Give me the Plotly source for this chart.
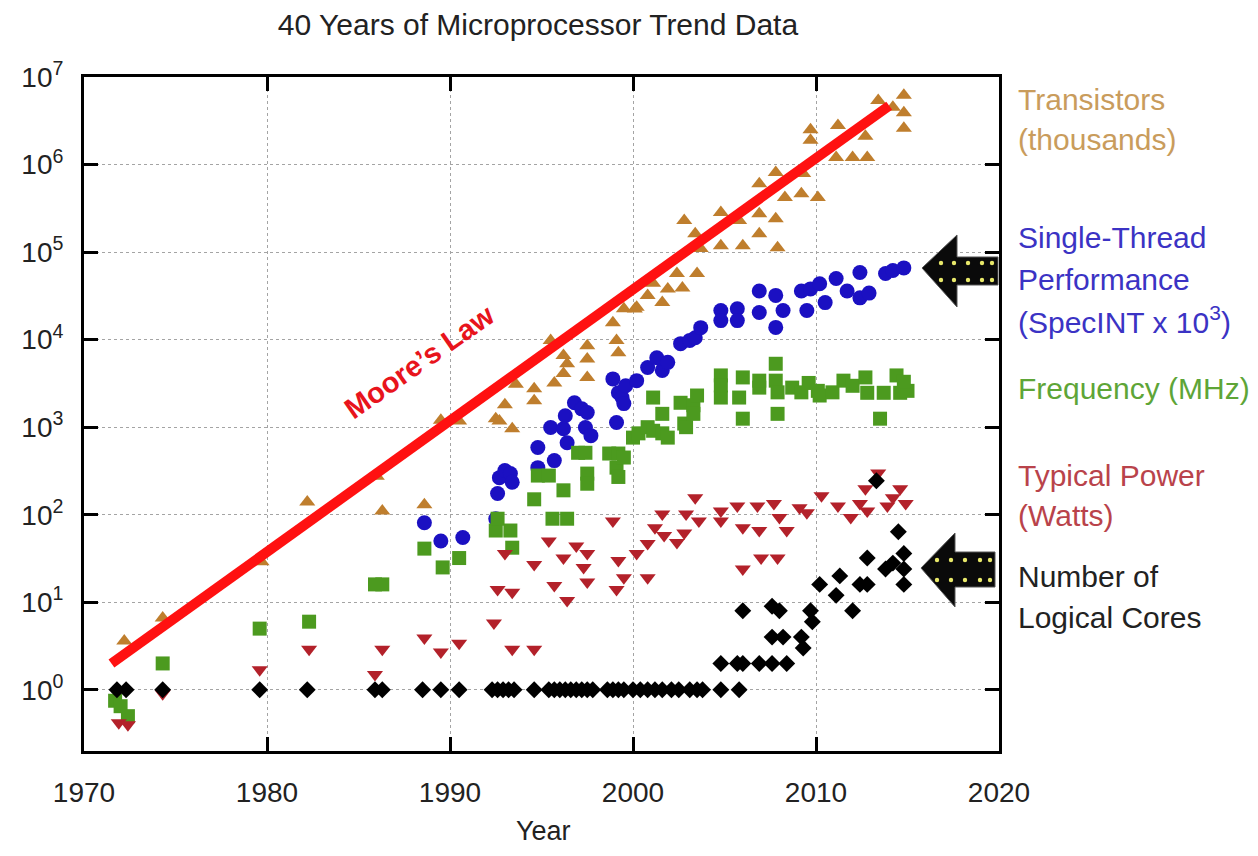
import plotly.graph_objects as go

# ---------------- data ----------------
tr_year = [1972.2, 1974.3, 1979.7, 1982.2, 1986.0, 1986.3, 1988.6, 1989.5, 1990.5, 1992.5,
           1992.7, 1993.0, 1993.4, 1993.6, 1994.6, 1994.6, 1995.5, 1995.7, 1996.2, 1996.2,
           1996.4, 1997.5, 1997.5, 1997.5, 1998.9, 1999.1, 1999.2, 1999.5, 2000.1, 2000.2,
           2000.8, 2001.1, 2001.6, 2001.9, 2002.4, 2002.7, 2003.5, 2002.8, 2003.4, 2003.7,
           2004.8, 2004.8, 2005.8, 2006.0, 2006.9, 2006.9, 2006.9, 2007.8, 2007.8, 2007.9,
           2008.3, 2009.2, 2009.3, 2009.7, 2009.7, 2010.1, 2011.1, 2011.2, 2012.0, 2012.7,
           2012.8, 2013.4, 2014.2, 2014.8, 2014.8, 2014.8]
tr_val = [3.6, 6.6, 29, 140, 275, 110, 130, 1200, 1180, 1250,
          1180, 1800, 960, 3100, 2750, 2000, 9800, 3200, 6600, 4100,
          5300, 8500, 6000, 3700, 15600, 9800, 7100, 22600, 22400, 23400,
          32000, 44000, 26600, 38000, 57000, 39000, 57000, 229000, 162000, 110000,
          283000, 118000, 229000, 118000, 275000, 162000, 605000, 810000, 240000, 112000,
          420000, 465000, 790000, 2500000, 1900000, 420000, 1200000, 2800000, 1200000, 2100000,
          1200000, 5400000, 4500000, 6200000, 3900000, 2600000]

st_year = [1988.6, 1989.5, 1990.7, 1992.5, 1992.6, 1992.7, 1993.0, 1993.3, 1993.4, 1994.8,
           1994.8, 1995.5, 1995.7, 1996.2, 1996.3, 1996.4, 1996.8, 1997.2, 1997.4, 1997.5,
           1997.7, 1998.9, 1999.1, 1999.2, 1999.4, 1999.5, 1999.6, 2000.2, 2000.8, 2001.3,
           2001.6, 2001.9, 2002.6, 2003.1, 2003.4, 2003.7, 2004.8, 2004.8, 2005.7, 2005.7,
           2006.9, 2006.9, 2007.8, 2007.8, 2008.2, 2009.2, 2009.5, 2009.7, 2010.2, 2010.5,
           2011.1, 2011.7, 2012.4, 2012.4, 2012.9, 2013.8, 2014.2, 2014.8]
st_val = [81, 50, 55, 90, 175, 265, 320, 295, 235, 585,
          345, 990, 415, 960, 1350, 665, 1900, 1620, 990, 1470,
          800, 3560, 1130, 2470, 2180, 1860, 2970, 3400, 4800, 6200,
          4450, 5500, 9000, 9800, 10500, 13700, 21500, 16500, 22500, 16500,
          36000, 20400, 32000, 13800, 21500, 36000, 21500, 38000, 43500, 26500,
          50000, 36000, 30000, 58500, 34000, 57000, 61500, 66000]

fq_year = [1971.7, 1972.0, 1972.4, 1974.3, 1979.6, 1982.3, 1985.9, 1986.3, 1988.6, 1989.6,
           1990.5, 1992.5, 1992.6, 1993.3, 1993.4, 1994.6, 1994.8, 1995.4, 1995.6, 1996.4,
           1996.2, 1997.0, 1997.4, 1997.5, 1997.5, 1998.7, 1999.2, 1999.1, 1999.2, 1999.5,
           2000.0, 2000.3, 2000.8, 2001.1, 2001.1, 2001.6, 2001.6, 2001.9, 2002.6, 2002.8,
           2002.9, 2003.3, 2003.5, 2003.3, 2004.8, 2004.8, 2004.8, 2005.8, 2006.0, 2006.0,
           2006.9, 2006.9, 2007.8, 2007.8, 2007.9, 2007.9, 2008.7, 2009.2, 2009.6, 2010.1,
           2010.2, 2010.9, 2011.5, 2012.0, 2012.7, 2012.8, 2013.5, 2013.7, 2014.4, 2014.6,
           2015.0, 2014.8]
fq_val = [0.75, 0.65, 0.5, 2.0, 5.0, 6.0, 16, 16, 41, 25,
          32, 66, 90, 66, 42, 150, 280, 280, 90, 90,
          190, 510, 510, 295, 226, 500, 500, 345, 270, 450,
          760, 850, 1000, 910, 2180, 1420, 850, 760, 1900, 1100,
          1000, 1780, 2300, 1420, 3900, 2180, 3000, 2180, 3700, 1250,
          2830, 3400, 5300, 3400, 1420, 2500, 2830, 2500, 3200, 2600,
          2300, 2500, 3400, 2970, 3700, 2470, 1250, 2470, 3900, 2470,
          2600, 3300]

pw_year = [1971.9, 1972.4, 1974.3, 1979.6, 1982.3, 1985.9, 1986.3, 1988.6, 1989.5, 1990.5,
           1992.4, 1992.6, 1993.0, 1993.4, 1993.4, 1994.6, 1994.6, 1995.4, 1995.7, 1996.2,
           1996.4, 1996.9, 1997.3, 1997.5, 1997.5, 1998.9, 1999.1, 1999.2, 1999.5, 2000.2,
           2000.8, 2000.8, 2001.2, 2001.6, 2001.7, 2002.4, 2002.8, 2002.9, 2003.4, 2003.6,
           2004.8, 2004.8, 2005.7, 2006.0, 2006.0, 2006.8, 2006.9, 2007.0, 2007.7, 2007.9,
           2008.0, 2008.4, 2009.1, 2009.5, 2010.3, 2011.2, 2011.9, 2012.4, 2012.7, 2012.8,
           2013.4, 2013.9, 2014.2, 2014.6, 2014.9]
pw_val = [0.42, 0.40, 0.9, 1.7, 2.9, 1.5, 2.9, 3.9, 2.7, 3.4,
          5.8, 14, 36, 13, 2.9, 27, 2.9, 50, 15.5, 32,
          10.5, 44, 25, 36, 17, 85, 14, 30, 19, 36,
          19, 47, 71, 102, 58, 48, 62, 102, 156, 85,
          110, 85, 126, 71, 24, 126, 66, 32, 134, 32,
          93, 66, 120, 105, 165, 126, 93, 134, 198, 110,
          300, 126, 156, 198, 134]

co_year = [1971.8, 1972.3, 1974.3, 1979.6, 1982.2, 1985.9, 1986.3, 1988.5, 1989.5, 1990.5,
           1992.3, 1992.6, 1992.9, 1993.2, 1993.5, 1994.6, 1995.4, 1995.7, 1996.0, 1996.3,
           1996.6, 1996.9, 1997.2, 1997.5, 1997.8, 1998.6, 1998.9, 1999.2, 1999.5, 2000.0,
           2000.4, 2000.8, 2001.2, 2001.6, 2002.1, 2002.5, 2003.1, 2003.5, 2003.8, 2004.8,
           2005.8,
           2004.8, 2005.7, 2006.0, 2006.9, 2007.6, 2008.4,
           2009.3, 2007.6, 2008.2, 2009.2,
           2006.0, 2007.6, 2008.0, 2009.7, 2009.8,
           2010.2, 2011.1, 2011.3, 2012.0, 2012.4, 2012.8, 2012.8, 2013.8, 2014.2, 2014.5,
           2014.8, 2014.8, 2014.8, 2013.3]
co_val = [1] * 41 + [2, 2, 2, 2, 2, 2,
                     3, 4, 4, 4,
                     8, 9, 8, 8, 6,
                     16, 12, 20, 8, 16, 16, 32, 24, 28, 64,
                     36, 24, 16, 244]

moore_year = [1971.5, 2014.0]
moore_val = [2, 4.7e6]

x_ticks = [1970, 1980, 1990, 2000, 2010, 2020]
y_ticks = [1, 10, 100, 1e3, 1e4, 1e5, 1e6, 1e7]
y_ticktext = ["10<sup>%d</sup>" % i for i in range(8)]

# ---------------- styling ----------------
FONT = "Liberation Sans, Arial, Helvetica, sans-serif"
C_TR, C_TR_T = "#bf7e2d", "#c99c5c"
C_ST, C_ST_T = "#1b10c2", "#3b33c4"
C_FQ, C_FQ_T = "#4c9a1f", "#5ea537"
C_PW, C_PW_T = "#b3212a", "#b9434b"
C_CO, C_CO_T = "#000000", "#222222"

OFF = 8                       # page body margin
W, H = 1258 - 2 * OFF, 856 - 2 * OFF
L, R, T, B = 84, 999, 77, 751  # plot frame in page pixels


def P(x, y):
    return (x - L) / (R - L), 1 - (y - T) / (B - T)


fig = go.Figure()
fig.add_trace(go.Scatter(x=tr_year, y=tr_val, mode="markers",
                         marker=dict(symbol="triangle-up", size=14, color=C_TR)))
fig.add_trace(go.Scatter(x=st_year, y=st_val, mode="markers",
                         marker=dict(symbol="circle", size=15, color=C_ST)))
fig.add_trace(go.Scatter(x=fq_year, y=fq_val, mode="markers",
                         marker=dict(symbol="square", size=14, color=C_FQ)))
fig.add_trace(go.Scatter(x=pw_year, y=pw_val, mode="markers",
                         marker=dict(symbol="triangle-down", size=14, color=C_PW)))
fig.add_trace(go.Scatter(x=co_year, y=co_val, mode="markers",
                         marker=dict(symbol="diamond", size=13, color=C_CO)))
fig.add_trace(go.Scatter(x=moore_year, y=moore_val, mode="lines",
                         line=dict(color="#ff1111", width=10)))

axis_common = dict(showline=True, linecolor="black", linewidth=3, mirror="ticks",
                   ticks="inside", ticklen=14, tickwidth=3, tickcolor="black",
                   showgrid=True, gridcolor="#a4a4a4", griddash="dot", gridwidth=1,
                   zeroline=False, automargin=False,
                   tickfont=dict(family=FONT, size=28, color="#222"))

fig.update_xaxes(range=[1970, 2020], tickvals=x_ticks, ticklabelstandoff=14, **axis_common)
fig.update_yaxes(type="log", range=[-0.699, 7], tickvals=y_ticks, ticktext=y_ticktext,
                 ticklabelstandoff=12, **axis_common)

ann = [
    dict(text="Moore’s Law", x=P(419, 362)[0], y=P(419, 362)[1], textangle=-35,
         font=dict(family=FONT, size=29, color="#e8141c", weight="bold")),
    dict(text="Year", x=P(543, 831)[0], y=P(543, 831)[1],
         font=dict(family=FONT, size=27, color="#222")),
]
labels = [
    ("Transistors", 99, C_TR_T), ("(thousands)", 140, C_TR_T),
    ("Single-Thread", 238, C_ST_T), ("Performance", 279, C_ST_T),
    ("(SpecINT x 10<sup>3</sup>)", 320, C_ST_T),
    ("Frequency (MHz)", 388, C_FQ_T),
    ("Typical Power", 475, C_PW_T), ("(Watts)", 515, C_PW_T),
    ("Number of", 576, C_CO_T), ("Logical Cores", 617, C_CO_T),
]
for txt, yp, col in labels:
    ann.append(dict(text=txt, x=P(1016, yp)[0], y=P(1016, yp)[1], xanchor="left",
                    font=dict(family=FONT, size=30, color=col)))
for a in ann:
    a.update(xref="paper", yref="paper", showarrow=False, yanchor="middle")
    a.setdefault("xanchor", "center")

# Decorative block arrows with yellow dots
shapes = []
arrows = [
    dict(tip=(922, 268), hx=957, htop=235, hbot=307, stop=257, sbot=285, sx=998,
         rows=(263, 280), dots=(941, 954, 968, 982, 992)),
    dict(tip=(921, 568), hx=955, htop=533, hbot=607, stop=552, sbot=587, sx=995,
         rows=(560, 580), dots=(937, 951, 965, 980, 990)),
]
for a in arrows:
    pts = [a["tip"], (a["hx"], a["htop"]), (a["hx"], a["stop"]), (a["sx"], a["stop"]),
           (a["sx"], a["sbot"]), (a["hx"], a["sbot"]), (a["hx"], a["hbot"])]
    path = "M " + " L ".join("%.5f,%.5f" % P(*p) for p in pts) + " Z"
    shapes.append(dict(type="path", path=path, xref="paper", yref="paper",
                       fillcolor="#0a0a0a", line=dict(color="#555", width=1), layer="above"))
    for ry in a["rows"]:
        for dx in a["dots"]:
            x0, y0 = P(dx - 2.2, ry - 2.2)
            x1, y1 = P(dx + 2.2, ry + 2.2)
            shapes.append(dict(type="circle", xref="paper", yref="paper",
                               x0=x0, x1=x1, y0=y1, y1=y0,
                               fillcolor="#e8e86a", line=dict(width=0), layer="above"))

fig.update_layout(
    width=W, height=H, autosize=False,
    margin=dict(l=L - OFF, r=W - (R - OFF), t=T - OFF, b=H - (B - OFF)),
    paper_bgcolor="white", plot_bgcolor="white", showlegend=False,
    title=dict(text="40 Years of Microprocessor Trend Data", x=P(538, 0)[0], xref="paper",
               y=1 - (24 - OFF) / H, yref="container", xanchor="center", yanchor="middle",
               font=dict(family=FONT, size=30, color="#222")),
    annotations=ann, shapes=shapes,
)

fig.write_html("out.html")
